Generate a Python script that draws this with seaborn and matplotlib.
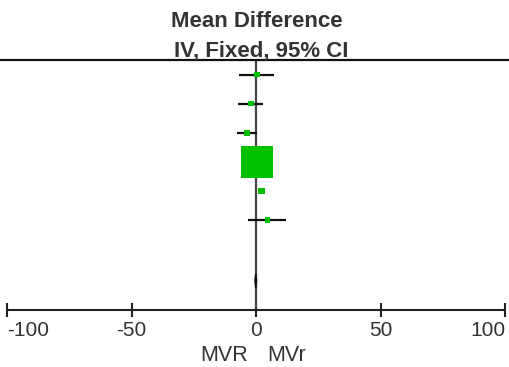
import numpy as np
import pandas as pd
import seaborn as sns
import matplotlib.pyplot as plt
from matplotlib.lines import Line2D

# study rows (mean difference with 95% CI)
study_row = [0, 1, 2, 3, 4, 5]
md = [0.2, -2.2, -3.8, 0.2, 2.2, 4.5]
ci_lo = [-6.8, -7.2, -7.8, -1.0, 1.2, -3.2]
ci_hi = [7.0, 2.9, 0.2, 1.4, 3.4, 12.0]
weight = [0.6, 0.5, 0.6, 96.0, 1.2, 0.4]

# pooled estimate (diamond)
pooled_row = 7.1
pooled_md = -0.15
pooled_lo = -0.5
pooled_hi = 0.2

xticks = [-100, -50, 0, 50, 100]
left_label = "MVR"
right_label = "MVr"

green = "#00c000"
text_col = "#333333"

sns.set_style("white")
plt.rcParams["font.family"] = ["Liberation Sans", "DejaVu Sans"]

df = pd.DataFrame({"row": study_row, "md": md, "lo": ci_lo, "hi": ci_hi, "w": weight})

fig = plt.figure(figsize=(5.09, 3.67), dpi=100, facecolor="white")
ax = fig.add_axes([7.3 / 509, 1 - 310 / 367, (505 - 7.3) / 509, 250 / 367])

# line of no effect
ax.axvline(0, color="#444444", lw=1.6, zorder=1)

# confidence intervals
ax.hlines(df["row"], df["lo"], df["hi"], color="#111111", lw=1.6, zorder=2)

# study squares, area by weight
sns.scatterplot(data=df, x="md", y="row", size="w", sizes=(16, 540),
                marker="s", color=green, edgecolor="none", legend=False,
                ax=ax, zorder=3)

# pooled diamond
h = 0.25
ax.fill([pooled_lo, pooled_md, pooled_hi, pooled_md],
        [pooled_row, pooled_row - h, pooled_row, pooled_row + h],
        color="#111111", zorder=3)

ax.set_xlim(-100, 100)
ax.set_ylim(8.1, -0.5)
ax.set_xticks(xticks)
ax.set_xticklabels([str(t) for t in xticks])
ax.set_yticks([])
ax.set_xlabel("")
ax.set_ylabel("")
for s in ["top", "left", "right"]:
    ax.spines[s].set_visible(False)
ax.spines["bottom"].set_color("#222222")
ax.spines["bottom"].set_linewidth(1.5)
ax.tick_params(axis="x", direction="inout", length=10, width=1.5,
               color="#222222", labelsize=15, labelcolor=text_col, pad=3,
               bottom=True)
# end labels sit inside the axis ends
labels = ax.get_xticklabels()
labels[0].set_horizontalalignment("left")
labels[-1].set_horizontalalignment("right")

# header separator across the full width
fig.add_artist(Line2D([0, 1], [1 - 60 / 367, 1 - 60 / 367],
                      transform=fig.transFigure, color="#111111", lw=1.6))

fig.text(257 / 509, 1 - 27.3 / 367, "Mean Difference", ha="center",
         va="baseline", fontsize=16, fontweight="bold", color=text_col)
fig.text(261 / 509, 1 - 56.5 / 367, "IV, Fixed, 95% CI", ha="center",
         va="baseline", fontsize=16, fontweight="bold", color=text_col)

fig.text(248 / 509, 1 - 361 / 367, left_label, ha="right", va="baseline",
         fontsize=15.5, color=text_col)
fig.text(267 / 509, 1 - 361 / 367, right_label, ha="left", va="baseline",
         fontsize=15.5, color=text_col)

fig.savefig("out.png", dpi=100, facecolor="white")
